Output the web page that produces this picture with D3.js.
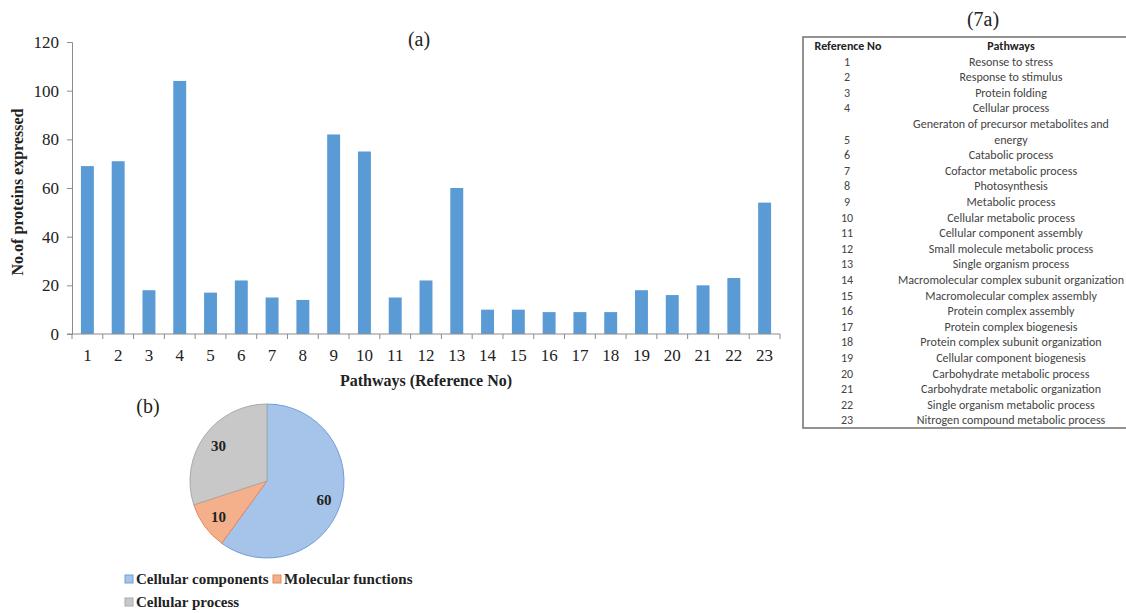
<!DOCTYPE html>
<html>
<head>
<meta charset="utf-8">
<script src="https://d3js.org/d3.v7.min.js"></script>
<style>
  body { margin: 0; background: #fff; }
  svg { display: block; }
</style>
</head>
<body>
<svg id="chart" width="1126" height="613"></svg>
<script>
// bar chart (a): proteins expressed per pathway
var refNos = ["1","2","3","4","5","6","7","8","9","10","11","12","13","14","15","16","17","18","19","20","21","22","23"];
var proteinCounts = [69, 71, 18, 104, 17, 22, 15, 14, 82, 75, 15, 22, 60, 10, 10, 9, 9, 9, 18, 16, 20, 23, 54];
var yTicks = [0, 20, 40, 60, 80, 100, 120];

// table (7a)
var pathwayNames = [
  "Resonse to stress", "Response to stimulus", "Protein folding", "Cellular process",
  "Generaton of precursor metabolites and energy", "Catabolic process", "Cofactor metabolic process",
  "Photosynthesis", "Metabolic process", "Cellular metabolic process", "Cellular component assembly",
  "Small molecule metabolic process", "Single organism process", "Macromolecular complex subunit organization",
  "Macromolecular complex assembly", "Protein complex assembly", "Protein complex biogenesis",
  "Protein complex subunit organization", "Cellular component biogenesis", "Carbohydrate metabolic process",
  "Carbohydrate metabolic organization", "Single organism metabolic process", "Nitrogen compound metabolic process"
];

// pie (b)
var pieLabels = ["Cellular components", "Molecular functions", "Cellular process"];
var pieValues = [60, 10, 30];
var pieColors = ["#a6c4e9", "#f4b08a", "#c8c8c8"];
var pieStrokes = ["#6f9fd6", "#e8875a", "#a9a9a9"];

var svg = d3.select("#chart");
var serif = "'Liberation Serif', 'Times New Roman', serif";
var sans = "Carlito, Lato, 'Open Sans', sans-serif";

// ---------- bar chart ----------
var plotLeft = 72, plotRight = 780, plotTop = 42, plotBottom = 334;

var x = d3.scaleBand().domain(refNos).range([plotLeft, plotRight]).paddingInner(0.58).paddingOuter(0.29);
var xb = d3.scaleBand().domain(refNos).range([plotLeft, plotRight]); // for tick boundaries
var y = d3.scaleLinear().domain([0, 120]).range([plotBottom, plotTop]);

svg.append("g").selectAll("rect")
  .data(proteinCounts)
  .enter().append("rect")
    .attr("x", (d, i) => x(refNos[i]))
    .attr("y", d => y(d))
    .attr("width", x.bandwidth())
    .attr("height", d => plotBottom - y(d))
    .attr("fill", "#5b9bd5");

// y axis
var yAxis = svg.append("g")
  .attr("transform", "translate(" + plotLeft + ",0)")
  .call(d3.axisLeft(y).tickValues(yTicks).tickSize(5).tickPadding(8));
yAxis.select(".domain").attr("stroke", "#8c8c8c");
yAxis.selectAll(".tick line").attr("stroke", "#8c8c8c");
yAxis.selectAll("text").attr("font-family", serif).attr("font-size", 17).attr("fill", "#222");

// x axis (ticks at category boundaries)
var xAxisG = svg.append("g").attr("transform", "translate(0," + plotBottom + ")");
xAxisG.append("line").attr("x1", plotLeft - 5).attr("x2", plotRight).attr("stroke", "#8c8c8c");
xAxisG.selectAll("line.tk")
  .data(refNos.concat(["end"]))
  .enter().append("line")
    .attr("class", "tk")
    .attr("x1", (d, i) => i < refNos.length ? xb(d) : plotRight)
    .attr("x2", (d, i) => i < refNos.length ? xb(d) : plotRight)
    .attr("y1", 0).attr("y2", 5)
    .attr("stroke", "#8c8c8c");
xAxisG.selectAll("text")
  .data(refNos)
  .enter().append("text")
    .attr("x", d => xb(d) + xb.bandwidth() / 2)
    .attr("y", 27)
    .attr("text-anchor", "middle")
    .attr("font-family", serif).attr("font-size", 17).attr("fill", "#222")
    .text(d => d);

svg.append("text")
  .attr("transform", "translate(23," + ((plotTop + plotBottom) / 2 + 4) + ") rotate(-90)")
  .attr("text-anchor", "middle")
  .attr("font-family", serif).attr("font-size", 16).attr("font-weight", "bold").attr("fill", "#222")
  .text("No.of proteins expressed");

svg.append("text")
  .attr("x", 426).attr("y", 386)
  .attr("text-anchor", "middle")
  .attr("font-family", serif).attr("font-size", 16).attr("font-weight", "bold").attr("fill", "#222")
  .text("Pathways (Reference No)");

svg.append("text")
  .attr("x", 419).attr("y", 46)
  .attr("text-anchor", "middle")
  .attr("font-family", serif).attr("font-size", 20).attr("fill", "#222")
  .text("(a)");

// ---------- table (7a) ----------
svg.append("text")
  .attr("x", 983).attr("y", 26)
  .attr("text-anchor", "middle")
  .attr("font-family", serif).attr("font-size", 20).attr("fill", "#222")
  .text("(7a)");

svg.append("rect")
  .attr("x", 803).attr("y", 37).attr("width", 340).attr("height", 391)
  .attr("fill", "none").attr("stroke", "#777").attr("stroke-width", 1.6);

var refX = 847, pathX = 1011, rowH = 15.6, firstRow = 65.5;
svg.append("text").attr("x", refX + 1).attr("y", 50).attr("text-anchor", "middle")
  .attr("font-family", sans).attr("font-size", 12).attr("font-weight", "bold").attr("fill", "#222")
  .text("Reference No");
svg.append("text").attr("x", pathX).attr("y", 50).attr("text-anchor", "middle")
  .attr("font-family", sans).attr("font-size", 12).attr("font-weight", "bold").attr("fill", "#222")
  .text("Pathways");

var lineIdx = 0;
var tbl = svg.append("g").attr("font-family", sans).attr("font-size", 12).attr("fill", "#444");
pathwayNames.forEach(function(name, i) {
  var lines = name.length > 42 && name.indexOf(" and ") > 0
    ? [name.slice(0, name.lastIndexOf(" ")), name.slice(name.lastIndexOf(" ") + 1)]
    : [name];
  lines.forEach(function(ln) {
    tbl.append("text")
      .attr("x", pathX).attr("y", firstRow + lineIdx * rowH)
      .attr("text-anchor", "middle").text(ln);
    lineIdx++;
  });
  tbl.append("text")
    .attr("x", refX).attr("y", firstRow + (lineIdx - 1) * rowH)
    .attr("text-anchor", "middle").text(refNos[i]);
});

// ---------- pie (b) ----------
svg.append("text")
  .attr("x", 148).attr("y", 413)
  .attr("text-anchor", "middle")
  .attr("font-family", serif).attr("font-size", 20).attr("fill", "#222")
  .text("(b)");

var cx = 267, cy = 481, r = 77;
var pie = d3.pie().sort(null).value(d => d);
var arc = d3.arc().innerRadius(0).outerRadius(r);
var labelArc = d3.arc().innerRadius(r * 0.78).outerRadius(r * 0.78);
var pg = svg.append("g").attr("transform", "translate(" + cx + "," + cy + ")");
var arcs = pie(pieValues);
pg.selectAll("path")
  .data(arcs)
  .enter().append("path")
    .attr("d", arc)
    .attr("fill", (d, i) => pieColors[i])
    .attr("stroke", (d, i) => pieStrokes[i])
    .attr("stroke-width", 1);
pg.selectAll("text")
  .data(arcs)
  .enter().append("text")
    .attr("transform", d => "translate(" + labelArc.centroid(d) + ")")
    .attr("dy", "0.35em")
    .attr("text-anchor", "middle")
    .attr("font-family", serif).attr("font-size", 15).attr("font-weight", "bold").attr("fill", "#222")
    .text(d => d.data);

// legend
var legendPos = [[125, 584], [273, 584], [125, 607]];
var lg = svg.append("g");
pieLabels.forEach(function(lbl, i) {
  lg.append("rect")
    .attr("x", legendPos[i][0]).attr("y", legendPos[i][1] - 9)
    .attr("width", 8).attr("height", 8)
    .attr("fill", pieColors[i]).attr("stroke", pieStrokes[i]);
  lg.append("text")
    .attr("x", legendPos[i][0] + 11).attr("y", legendPos[i][1])
    .attr("font-family", serif).attr("font-size", 15).attr("font-weight", "bold").attr("fill", "#222")
    .text(lbl);
});
</script>
</body>
</html>
